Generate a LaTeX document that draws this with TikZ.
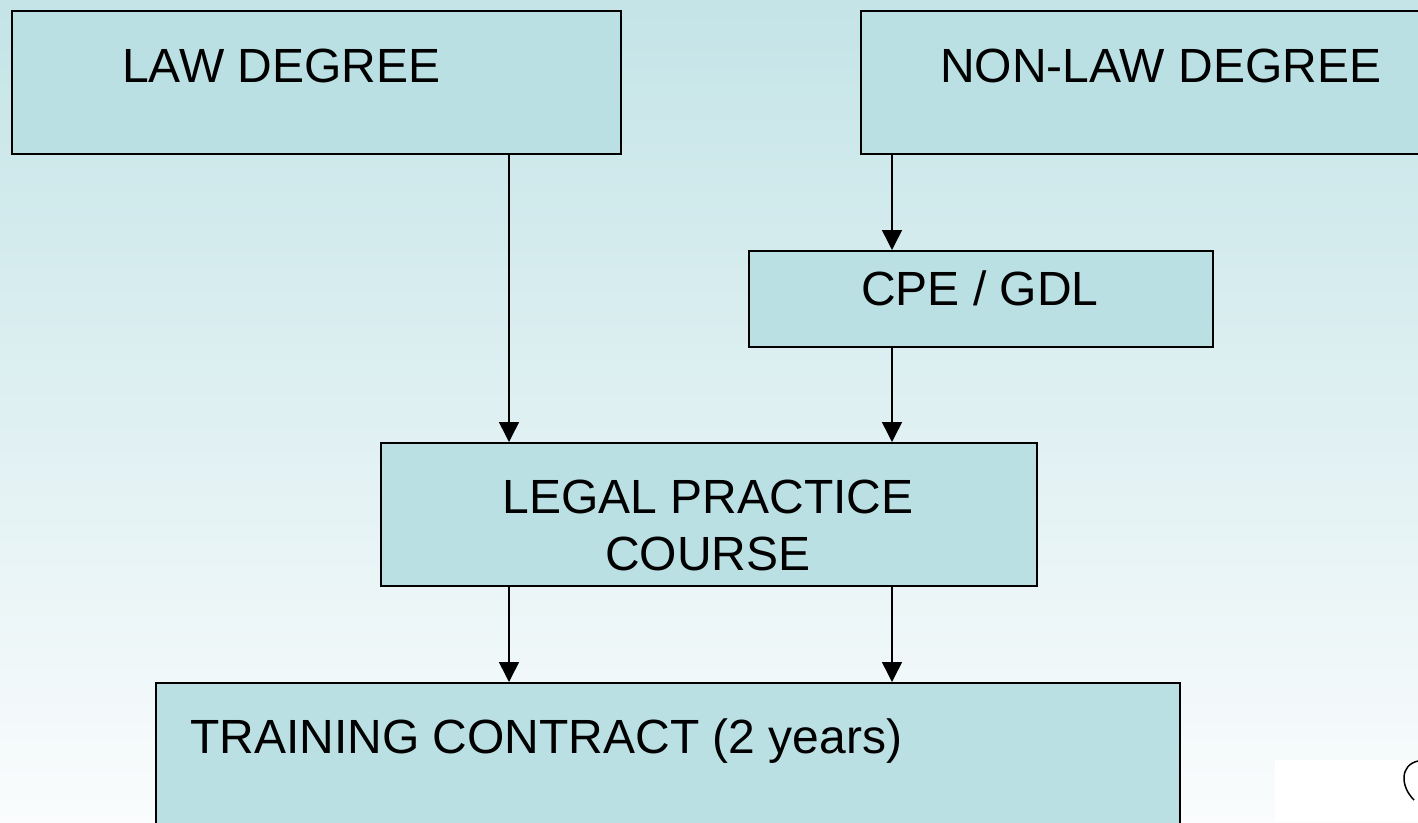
\documentclass[tikz,border=0pt]{standalone}
\usepackage{fontspec}
\setmainfont{Liberation Sans}
\usetikzlibrary{arrows.meta,positioning,calc}
\definecolor{boxfill}{RGB}{187,224,228}
\definecolor{bgtop}{RGB}{196,228,231}
\definecolor{bgbottom}{RGB}{250,252,253}
\tikzset{
  box/.style={draw=black, line width=1.6pt, fill=boxfill, rectangle, inner sep=0pt, anchor=north west},
  arr/.style={line width=1.5pt, -{Triangle[width=20pt,length=20pt]}},
  lbl/.style={inner sep=0pt, font=\fontsize{48}{57}\selectfont}
}

\begin{document}
\begin{tikzpicture}[x=1pt,y=-1pt]
			%%%%% BACKGROUND %%%%%
			\clip (0,0) rectangle (1418,822);
			\shade[top color=bgtop, bottom color=bgbottom] (0,0) rectangle (1418,822);
			
			%%%%% BOXES %%%%%
			\node[box, minimum width=609pt, minimum height=143pt] (law) at (11,10) {};
			\node[box, minimum width=600pt, minimum height=143pt] (nonlaw) at (860,10) {};
			\node[box, minimum width=464pt, minimum height=96pt] (cpe) at (748,250) {};
			\node[box, minimum width=656pt, minimum height=143pt] (lpc) at (380,442) {};
			\node[box, minimum width=1024pt, minimum height=170pt] (train) at (155,682) {};
			
			\node[lbl, anchor=base west] (lawtxt) at (122,82) {LAW DEGREE};
			\node[lbl, anchor=base west] (nonlawtxt) at (940,82) {NON-LAW DEGREE};
			\node[lbl, anchor=base] (cpetxt) at (980,305) {CPE / GDL};
			\node[lbl, anchor=base, align=center] (lpctxt) at (708,570) {LEGAL PRACTICE\\COURSE};
			\node[lbl, anchor=base west] (traintxt) at (190,753) {TRAINING CONTRACT (2 years)};
			
			%%%%% ARROWS %%%%%
			\coordinate (colA) at (509,0);
			\coordinate (colB) at (892,0);
			\draw[arr] (law.south -| colA) -- (lpc.north -| colA);
			\draw[arr] (nonlaw.south -| colB) -- (cpe.north -| colB);
			\draw[arr] (cpe.south -| colB) -- (lpc.north -| colB);
			\draw[arr] (lpc.south -| colA) -- (train.north -| colA);
			\draw[arr] (lpc.south -| colB) -- (train.north -| colB);
			
			%%%%% CORNER %%%%%
			\fill[white] (1275,760) rectangle (1418,822);
			\draw[line width=1.5pt] (1418,761) .. controls (1400,765) and (1400,786) .. (1414,800);
		\end{tikzpicture}
\end{document}
